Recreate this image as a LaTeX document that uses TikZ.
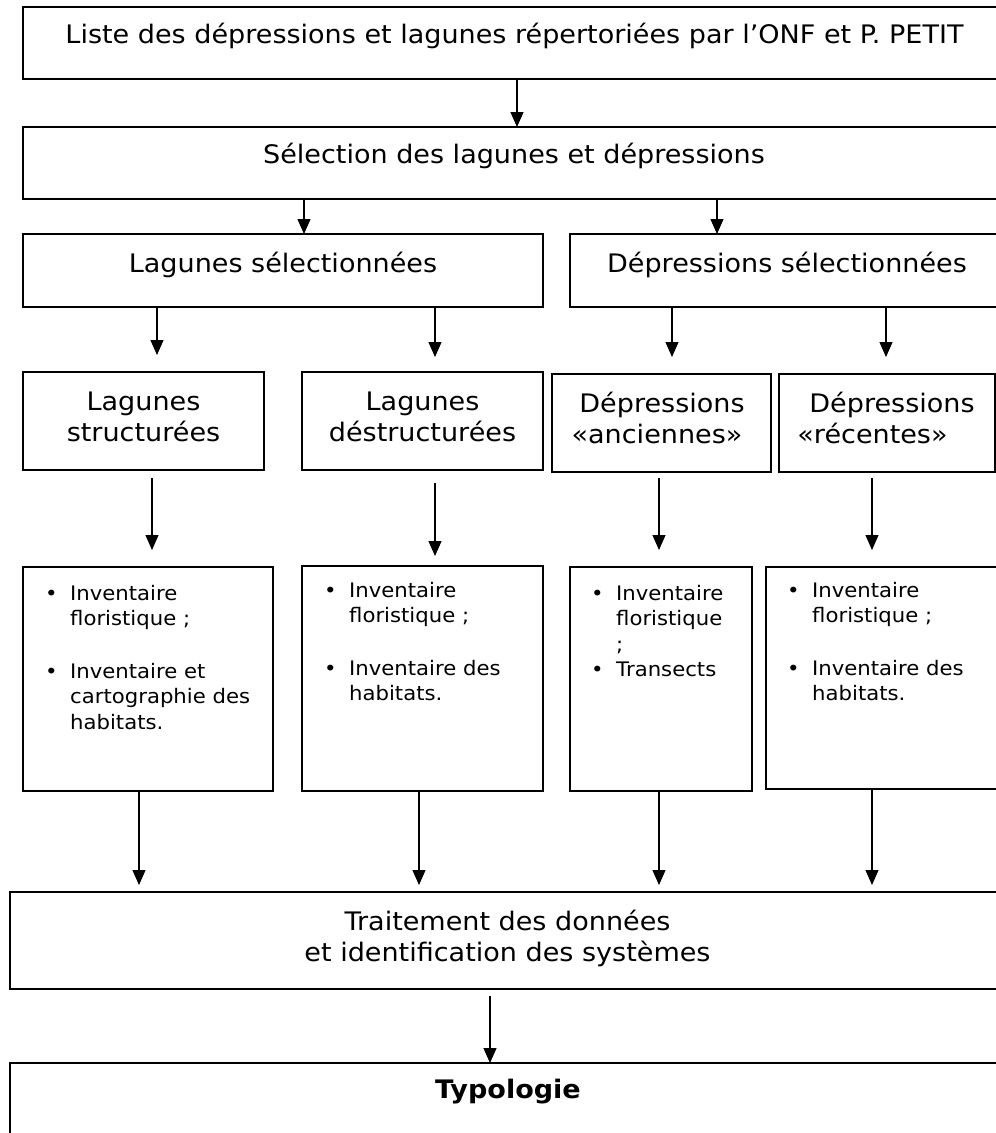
\documentclass[tikz,border=0pt]{standalone}
\usepackage{fontspec}
\setmainfont{DejaVu Sans}[FakeStretch=1.06]
\usetikzlibrary{arrows.meta}
\tikzset{
  box/.style={draw, line width=1.8pt, inner sep=0pt, outer sep=0pt, anchor=north west},
  listbox/.style={draw, line width=1.5pt, inner sep=0pt, outer sep=0pt, anchor=north west},
  arr/.style={-{Triangle[width=13pt,length=15pt]}, line width=1.1pt},
  bigtxt/.style={font=\fontsize{25.5}{31}\selectfont, inner sep=0pt, anchor=base},
  listtxt/.style={font=\fontsize{20}{25.5}\selectfont, inner sep=0pt, anchor=base west},
}
\newcommand\blt{\makebox[25pt][l]{•}}
\newcommand\nob{\makebox[25pt][l]{}}
\begin{document}
\begin{tikzpicture}[x=1pt,y=-1pt]
\useasboundingbox (0,0) rectangle (996,1133);
\clip (0,0) rectangle (996,1133);
% boxes
\node[box, minimum width=983pt, minimum height=72pt] (b1) at (23,7) {};
\node[box, minimum width=983pt, minimum height=72pt] (b2) at (23,127) {};
\node[box, minimum width=520pt, minimum height=73pt] (b3a) at (23,234) {};
\node[box, minimum width=436pt, minimum height=73pt] (b3b) at (570,234) {};
\node[box, minimum width=241pt, minimum height=98pt] (b4a) at (23,372) {};
\node[box, minimum width=241pt, minimum height=98pt] (b4b) at (302,372) {};
\node[box, minimum width=219pt, minimum height=98pt] (b4c) at (552,374) {};
\node[box, minimum width=216pt, minimum height=98pt] (b4d) at (779,374) {};
\node[listbox, minimum width=250pt, minimum height=224pt] (b5a) at (23,567) {};
\node[listbox, minimum width=241pt, minimum height=225pt] (b5b) at (302,566) {};
\node[listbox, minimum width=182pt, minimum height=224pt] (b5c) at (570,567) {};
\node[listbox, minimum width=244pt, minimum height=222pt] (b5d) at (766,567) {};
\node[box, minimum width=1000pt, minimum height=97pt] (b6) at (10,892) {};
\node[box, minimum width=1000pt, minimum height=90pt] (b7) at (10,1063) {};
% texts
\node[bigtxt] (t1) at (514.5,43) {Liste des dépressions et lagunes répertoriées par l’ONF et P. PETIT};
\node[bigtxt] (t2) at (514,163) {Sélection des lagunes et dépressions};
\node[bigtxt] (t3a) at (283,272) {Lagunes sélectionnées};
\node[bigtxt] (t3b) at (787,272) {Dépressions sélectionnées};
\node[bigtxt] (t4a) at (143.5,410) {\begin{tabular}[t]{@{}c@{}}Lagunes\\structurées\end{tabular}};
\node[bigtxt] (t4b) at (422.5,410) {\begin{tabular}[t]{@{}c@{}}Lagunes\\déstructurées\end{tabular}};
\node[bigtxt] (t4c) at (662,412) {\begin{tabular}[t]{@{}c@{}}Dépressions\\«anciennes»\kern10pt\end{tabular}};
\node[bigtxt] (t4d) at (892,412) {\begin{tabular}[t]{@{}c@{}}Dépressions\\«récentes»\kern39pt\end{tabular}};
\node[listtxt] (t5a) at (45,600) {\begin{tabular}[t]{@{}l@{}}\blt Inventaire\\\nob floristique ;\\[27pt]\blt Inventaire et\\\nob cartographie des\\\nob habitats.\end{tabular}};
\node[listtxt] (t5b) at (324,597) {\begin{tabular}[t]{@{}l@{}}\blt Inventaire\\\nob floristique ;\\[27pt]\blt Inventaire des\\\nob habitats.\end{tabular}};
\node[listtxt] (t5c) at (591,600) {\begin{tabular}[t]{@{}l@{}}\blt Inventaire\\\nob floristique\\\nob ;\\\blt Transects\end{tabular}};
\node[listtxt] (t5d) at (787,597) {\begin{tabular}[t]{@{}l@{}}\blt Inventaire\\\nob floristique ;\\[27pt]\blt Inventaire des\\\nob habitats.\end{tabular}};
\node[bigtxt] (t6) at (507.5,930) {\begin{tabular}[t]{@{}c@{}}Traitement des données\\et identification des systèmes\end{tabular}};
\node[bigtxt] (t7) at (508,1098) {\textbf{Typologie}};
% arrows
\draw[arr] (b1.south -| 517,0) -- (b2.north -| 517,0);
\draw[arr] (b2.south -| 304,0) -- (b3a.north -| 304,0);
\draw[arr] (b2.south -| 717,0) -- (b3b.north -| 717,0);
\draw[arr, shorten >=17pt] (b3a.south -| 157,0) -- (b4a.north -| 157,0);
\draw[arr, shorten >=15pt] (b3a.south -| 435,0) -- (b4b.north -| 435,0);
\draw[arr, shorten >=17pt] (b3b.south -| 672,0) -- (b4c.north -| 672,0);
\draw[arr, shorten >=17pt] (b3b.south -| 886,0) -- (b4d.north -| 886,0);
\draw[arr, shorten <=8pt, shorten >=17pt] (b4a.south -| 152,0) -- (b5a.north -| 152,0);
\draw[arr, shorten <=13pt, shorten >=10pt] (b4b.south -| 435,0) -- (b5b.north -| 435,0);
\draw[arr, shorten <=6pt, shorten >=17pt] (b4c.south -| 659,0) -- (b5c.north -| 659,0);
\draw[arr, shorten <=6pt, shorten >=17pt] (b4d.south -| 872,0) -- (b5d.north -| 872,0);
\draw[arr, shorten >=7pt] (b5a.south -| 139,0) -- (b6.north -| 139,0);
\draw[arr, shorten >=7pt] (b5b.south -| 419,0) -- (b6.north -| 419,0);
\draw[arr, shorten >=7pt] (b5c.south -| 659,0) -- (b6.north -| 659,0);
\draw[arr, shorten >=7pt] (b5d.south -| 872,0) -- (b6.north -| 872,0);
\draw[arr, shorten <=7pt] (b6.south -| 490,0) -- (b7.north -| 490,0);
\end{tikzpicture}
\end{document}
